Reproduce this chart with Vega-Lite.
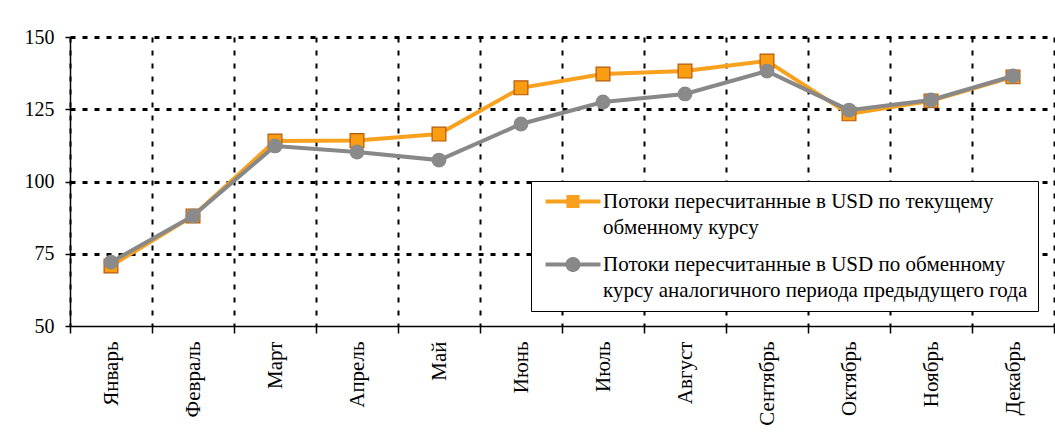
{
  "$schema": "https://vega.github.io/schema/vega-lite/v6.json",
  "width": 984,
  "height": 289,
  "autosize": "none",
  "padding": {"left": 70, "top": 37, "right": 1, "bottom": 106},
  "background": "white",
  "config": {"view": {"stroke": null}, "font": "Liberation Serif"},
  "data": {
    "values": [
      {"month": "Январь", "series": "Потоки пересчитанные в USD по текущему обменному курсу", "value": 70.8},
      {"month": "Февраль", "series": "Потоки пересчитанные в USD по текущему обменному курсу", "value": 88.1},
      {"month": "Март", "series": "Потоки пересчитанные в USD по текущему обменному курсу", "value": 114.0},
      {"month": "Апрель", "series": "Потоки пересчитанные в USD по текущему обменному курсу", "value": 114.2},
      {"month": "Май", "series": "Потоки пересчитанные в USD по текущему обменному курсу", "value": 116.4},
      {"month": "Июнь", "series": "Потоки пересчитанные в USD по текущему обменному курсу", "value": 132.4},
      {"month": "Июль", "series": "Потоки пересчитанные в USD по текущему обменному курсу", "value": 137.2},
      {"month": "Август", "series": "Потоки пересчитанные в USD по текущему обменному курсу", "value": 138.2},
      {"month": "Сентябрь", "series": "Потоки пересчитанные в USD по текущему обменному курсу", "value": 141.7},
      {"month": "Октябрь", "series": "Потоки пересчитанные в USD по текущему обменному курсу", "value": 123.4},
      {"month": "Ноябрь", "series": "Потоки пересчитанные в USD по текущему обменному курсу", "value": 127.9},
      {"month": "Декабрь", "series": "Потоки пересчитанные в USD по текущему обменному курсу", "value": 136.2},
      {"month": "Январь", "series": "Потоки пересчитанные в USD по обменному курсу аналогичного периода предыдущего года", "value": 72.1},
      {"month": "Февраль", "series": "Потоки пересчитанные в USD по обменному курсу аналогичного периода предыдущего года", "value": 88.1},
      {"month": "Март", "series": "Потоки пересчитанные в USD по обменному курсу аналогичного периода предыдущего года", "value": 112.3},
      {"month": "Апрель", "series": "Потоки пересчитанные в USD по обменному курсу аналогичного периода предыдущего года", "value": 110.2},
      {"month": "Май", "series": "Потоки пересчитанные в USD по обменному курсу аналогичного периода предыдущего года", "value": 107.4},
      {"month": "Июнь", "series": "Потоки пересчитанные в USD по обменному курсу аналогичного периода предыдущего года", "value": 119.9},
      {"month": "Июль", "series": "Потоки пересчитанные в USD по обменному курсу аналогичного периода предыдущего года", "value": 127.5},
      {"month": "Август", "series": "Потоки пересчитанные в USD по обменному курсу аналогичного периода предыдущего года", "value": 130.3},
      {"month": "Сентябрь", "series": "Потоки пересчитанные в USD по обменному курсу аналогичного периода предыдущего года", "value": 138.2},
      {"month": "Октябрь", "series": "Потоки пересчитанные в USD по обменному курсу аналогичного периода предыдущего года", "value": 124.7},
      {"month": "Ноябрь", "series": "Потоки пересчитанные в USD по обменному курсу аналогичного периода предыдущего года", "value": 128.2},
      {"month": "Декабрь", "series": "Потоки пересчитанные в USD по обменному курсу аналогичного периода предыдущего года", "value": 136.5}
    ]
  },
  "encoding": {
    "x": {
      "field": "month",
      "type": "ordinal",
      "sort": null,
      "bandPosition": 0.5,
      "scale": {"type": "band", "paddingInner": 0, "paddingOuter": 0},
      "axis": {
        "title": null,
        "labelAngle": -90,
        "labelFont": "Liberation Serif",
        "labelFontSize": 21,
        "labelColor": "black",
        "labelPadding": 8,
        "tickBand": "extent",
        "tickSize": 7,
        "tickColor": "black",
        "tickWidth": 1.5,
        "domainColor": "black",
        "domainWidth": 1.5,
        "grid": true,
        "gridColor": "black",
        "gridDash": [5, 8],
        "gridWidth": 2
      }
    },
    "y": {
      "field": "value",
      "type": "quantitative",
      "scale": {"domain": [50, 150], "nice": false, "zero": false},
      "axis": {
        "title": null,
        "values": [50, 75, 100, 125, 150],
        "labelFont": "Liberation Serif",
        "labelFontSize": 20,
        "labelColor": "black",
        "labelPadding": 11,
        "tickSize": 5,
        "tickColor": "black",
        "tickWidth": 1.5,
        "domainColor": "black",
        "domainWidth": 1.5,
        "grid": true,
        "gridColor": "black",
        "gridDash": [5, 7],
        "gridWidth": 3,
        "gridOpacity": {"condition": {"test": "datum.value === 50", "value": 0}, "value": 1}
      }
    }
  },
  "layer": [
    {
      "transform": [{"filter": "indexof(datum.series, 'текущему') >= 0"}],
      "mark": {"type": "line", "strokeWidth": 4},
      "encoding": {
        "color": {
          "field": "series",
          "type": "nominal",
          "scale": {
            "domain": ["Потоки пересчитанные в USD по текущему обменному курсу", "Потоки пересчитанные в USD по обменному курсу аналогичного периода предыдущего года"],
            "range": ["#F7A11E", "#888888"]
          },
          "legend": {
            "title": null,
            "orient": "none",
            "legendX": 461,
            "legendY": 144,
            "direction": "vertical",
            "padding": 10,
            "strokeColor": "black",
            "fillColor": "white",
            "symbolSize": 400,
            "symbolStrokeWidth": 0,
            "labelFont": "Liberation Serif",
            "labelFontSize": 21,
            "labelColor": "black",
            "labelLimit": 700,
            "labelOffset": 41,
            "rowPadding": 15,
            "labelExpr": "indexof(datum.label, 'текущему') >= 0 ? ['Потоки пересчитанные в USD по текущему', 'обменному курсу'] : ['Потоки пересчитанные в USD по обменному', 'курсу аналогичного периода предыдущего года']",
            "encode": {
              "symbols": {
                "update": {
                  "shape": {"signal": "indexof(datum.value, 'текущему') >= 0 ? 'M-0.6,-0.2H1.49V-0.66H2.81V-0.2H4.9V0.2H2.81V0.66H1.49V0.2H-0.6Z' : 'M-0.6,-0.2H1.4272A0.75,0.75 0 0 1 2.8728,-0.2H4.9V0.2H2.8728A0.75,0.75 0 0 1 1.4272,0.2H-0.6Z'"},
                  "fill": {"signal": "indexof(datum.value, 'текущему') >= 0 ? '#F7A11E' : '#888888'"},
                  "fillOpacity": {"value": 1},
                  "strokeWidth": {"value": 0}
                }
              },
              "labels": {"update": {"lineHeight": {"value": 26}}}
            }
          }
        }
      }
    },
    {
      "transform": [{"filter": "indexof(datum.series, 'текущему') >= 0"}],
      "mark": {"type": "point", "shape": "square", "filled": true, "fill": "#FA9D12", "stroke": "#B4580A", "strokeWidth": 1.2, "size": 190, "opacity": 1}
    },
    {
      "transform": [{"filter": "indexof(datum.series, 'текущему') < 0"}],
      "mark": {"type": "line", "strokeWidth": 4},
      "encoding": {
        "color": {"field": "series", "type": "nominal"}
      }
    },
    {
      "transform": [{"filter": "indexof(datum.series, 'текущему') < 0"}],
      "mark": {"type": "point", "shape": "circle", "filled": true, "fill": "#8A8A8A", "size": 220, "opacity": 1}
    }
  ]
}
